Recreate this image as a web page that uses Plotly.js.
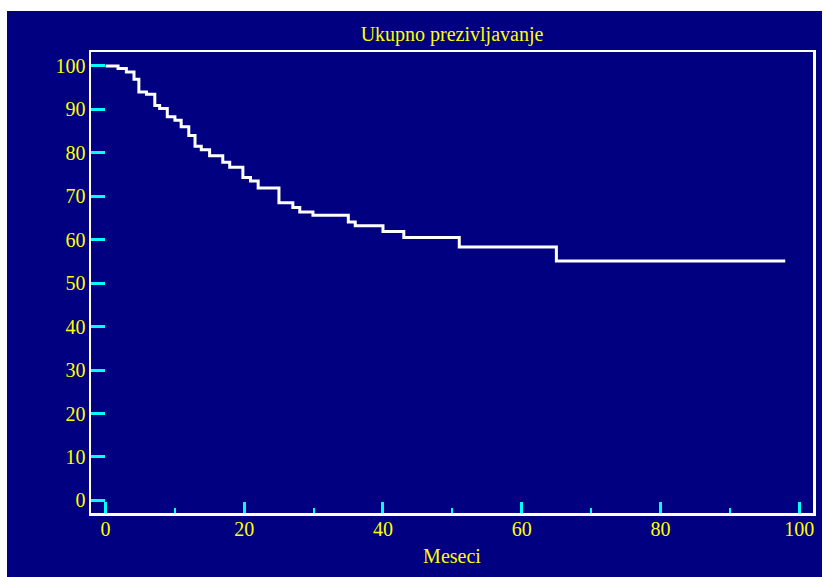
<!DOCTYPE html>
<html>
<head>
<meta charset="utf-8">
<script src="https://cdn.plot.ly/plotly-3.0.1.min.js"></script>
<style>
  html, body { margin: 0; padding: 0; background: #ffffff; width: 827px; height: 577px; overflow: hidden; }
  #chart { position: absolute; left: 7px; top: 11px; width: 815px; height: 566px; }
</style>
</head>
<body>
<div id="chart"></div>
<script>
// Kaplan-Meier step points
const months = [0, 1.8, 3.0, 4.1, 4.8, 5.9, 7.1, 7.8, 8.9, 10.0, 10.9, 12.0, 12.9, 13.8, 15.0, 16.9, 17.9, 19.8, 20.9, 22.0, 25.0, 27.0, 28.0, 29.9, 35.0, 36.0, 40.0, 43.0, 51.0, 65.0, 98.0];
const survival = [100, 99.4, 98.6, 96.9, 94.0, 93.5, 90.9, 90.2, 88.3, 87.5, 86.0, 84.0, 81.5, 80.7, 79.3, 77.8, 76.7, 74.3, 73.5, 71.9, 68.5, 67.4, 66.4, 65.6, 64.1, 63.2, 61.9, 60.5, 58.3, 55.1, 55.1];

const titleText = "Ukupno prezivljavanje";
const xTitle = "Meseci";

const navy = "#000080";
const yellow = "#ffff00";
const cyan = "#00ffff";
const font = "Liberation Serif, Times New Roman, serif";

const trace = {
  x: months,
  y: survival,
  type: "scatter",
  mode: "lines",
  line: { shape: "hv", color: "#ffffff", width: 3 },
  hoverinfo: "skip"
};

const layout = {
  width: 815,
  height: 566,
  paper_bgcolor: navy,
  plot_bgcolor: navy,
  showlegend: false,
  margin: { l: 84, r: 9, t: 41, b: 64, pad: 0 },
  title: {
    text: titleText,
    font: { family: font, size: 20, color: yellow },
    x: 0.5, xref: "paper", xanchor: "center",
    y: 1 - 23 / 566, yref: "container", yanchor: "middle"
  },
  xaxis: {
    range: [-2.1, 102],
    tickmode: "linear", tick0: 0, dtick: 20,
    ticks: "inside", ticklen: 11, tickwidth: 3, tickcolor: cyan,
    minor: { tickmode: "linear", tick0: 0, dtick: 10, ticks: "inside", ticklen: 5, tickwidth: 2, tickcolor: cyan },
    showgrid: false, zeroline: false,
    showline: true, linecolor: "#ffffff", linewidth: 2.5, mirror: true,
    tickfont: { family: font, size: 20, color: yellow },
    ticklabelstandoff: -4,
    title: { text: xTitle, font: { family: font, size: 20, color: yellow }, standoff: 11 }
  },
  yaxis: {
    range: [-2.9, 103.2],
    tickmode: "linear", tick0: 0, dtick: 10,
    ticks: "inside", ticklen: 14, tickwidth: 3, tickcolor: cyan,
    showgrid: false, zeroline: false,
    showline: true, linecolor: "#ffffff", linewidth: 2.5, mirror: true,
    tickfont: { family: font, size: 20, color: yellow },
    ticklabelstandoff: -1
  }
};

Plotly.newPlot("chart", [trace], layout, { displayModeBar: false, staticPlot: true });
</script>
</body>
</html>
